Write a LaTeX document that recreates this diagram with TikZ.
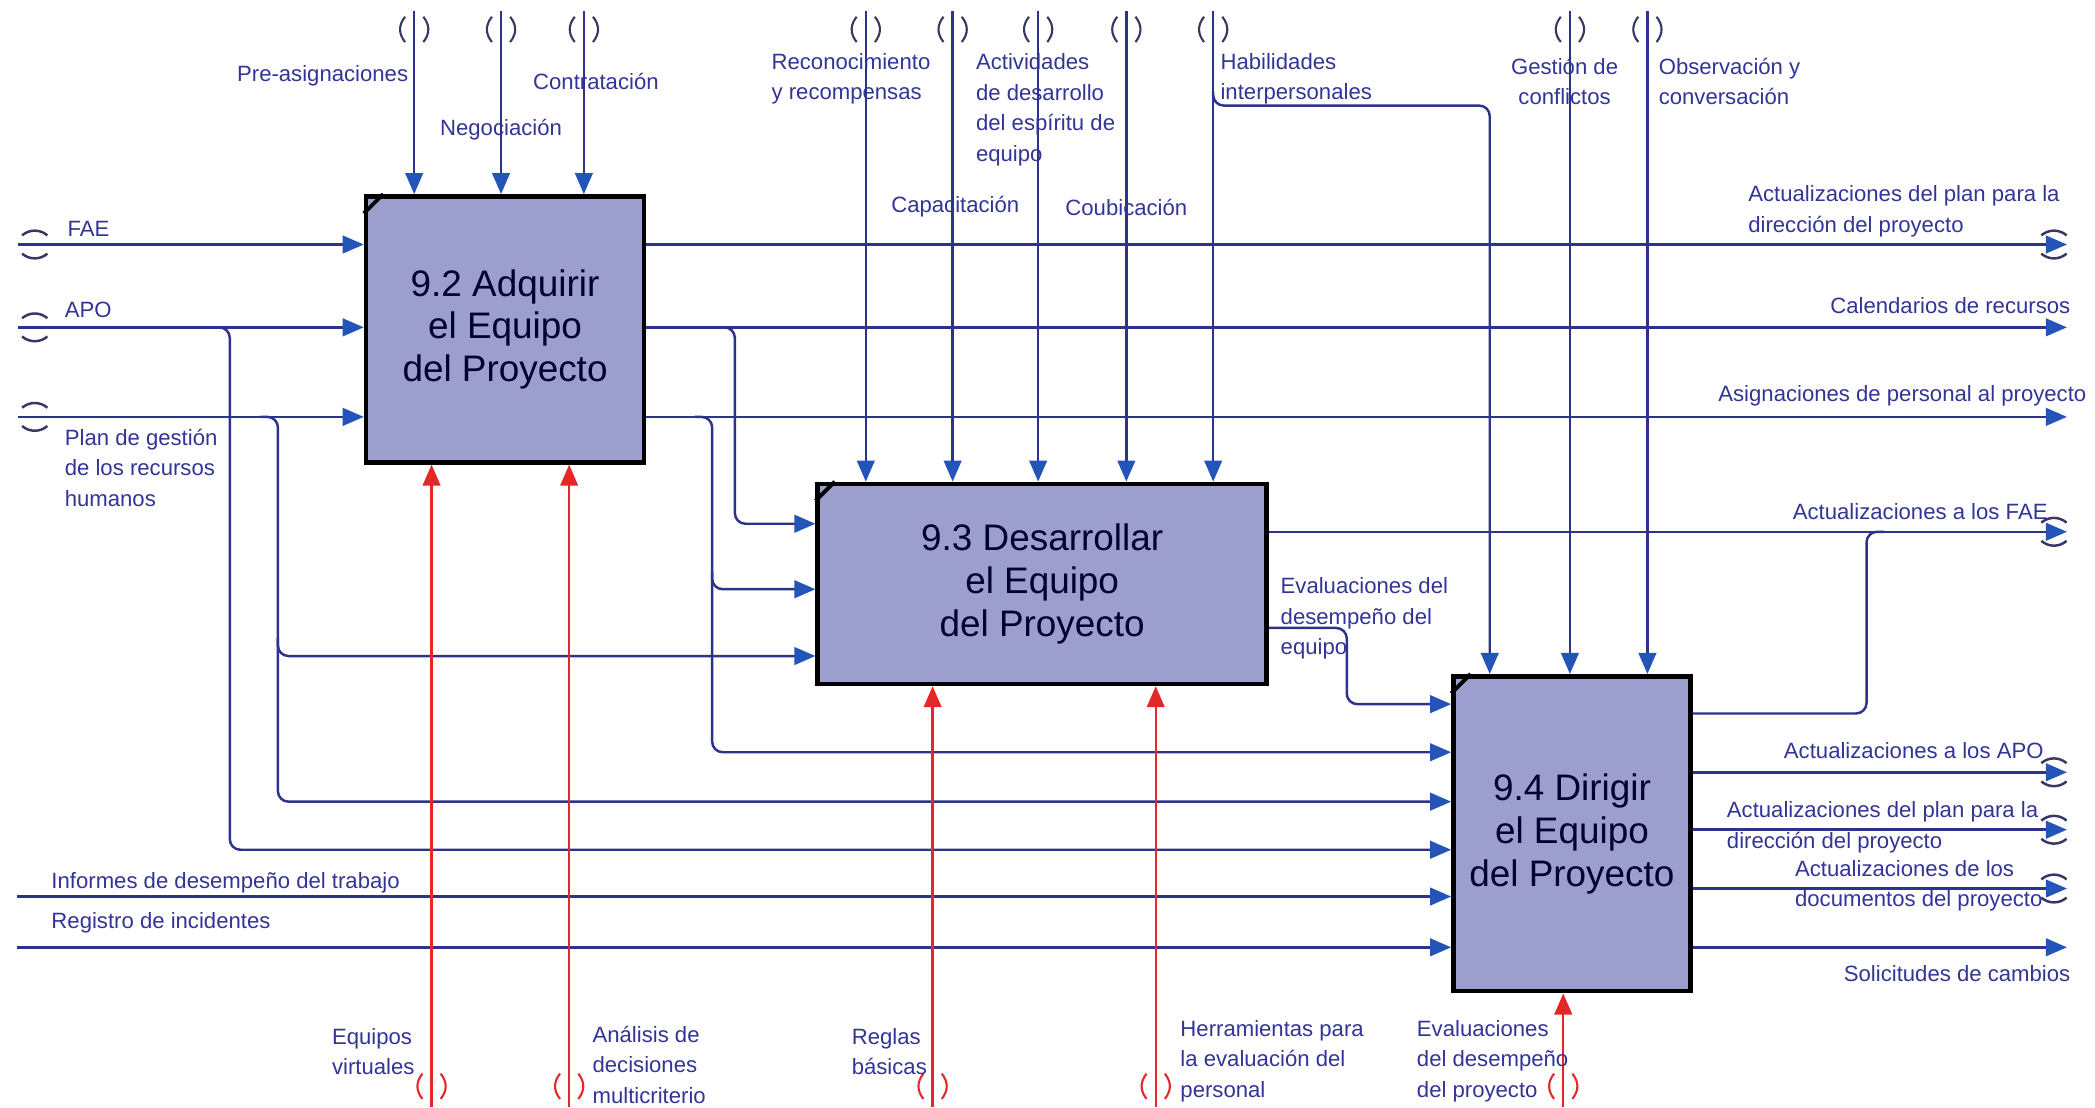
\documentclass[tikz,border=0pt]{standalone}
\usepackage{fontspec}
\setmainfont{Liberation Sans}
\usepackage{tikz}
\usetikzlibrary{arrows.meta, positioning}

\definecolor{azulinea}{RGB}{45,50,140}
\definecolor{azulpunta}{RGB}{35,85,185}
\definecolor{rojoctrl}{RGB}{228,40,40}
\definecolor{lavanda}{RGB}{156,158,206}
\definecolor{azultexto}{RGB}{50,52,150}
\definecolor{tunelgris}{RGB}{55,55,100}

\tikzstyle{proceso} = [rectangle, draw=black, line width=1.3pt, fill=lavanda, text=black!80!blue, align=center, font=\fontsize{10.5}{12.2}\selectfont, inner sep=0pt]
\tikzstyle{etiqueta} = [text=azultexto, font=\fontsize{6.3}{8.7}\selectfont, inner sep=0pt, align=left]
\tikzstyle{flecha} = [draw=azulinea, line width=0.7pt, rounded corners=3pt, -{Triangle[length=6pt, width=5pt, color=azulpunta]}]
\tikzstyle{tramo} = [draw=azulinea, line width=0.7pt, rounded corners=3pt]
\tikzstyle{mecanismo} = [draw=rojoctrl, line width=0.7pt, -{Triangle[length=6pt, width=5pt]}]

% tunnels: vertical "( )" and horizontal arcs
\tikzset{
  tunelv/.pic={
    \draw [line width=0.6pt] (-2.6pt,3.6pt) .. controls (-4.5pt,1.2pt) and (-4.5pt,-1.2pt) .. (-2.6pt,-3.6pt);
    \draw [line width=0.6pt] (2.6pt,3.6pt) .. controls (4.5pt,1.2pt) and (4.5pt,-1.2pt) .. (2.6pt,-3.6pt);
  },
  tunelh/.pic={
    \draw [line width=0.7pt] (-3.6pt,2.6pt) .. controls (-1.5pt,4.4pt) and (1.5pt,4.4pt) .. (3.6pt,2.6pt);
    \draw [line width=0.7pt] (-3.6pt,-2.6pt) .. controls (-1.5pt,-4.4pt) and (1.5pt,-4.4pt) .. (3.6pt,-2.6pt);
  }
}

\begin{document}
\begin{tikzpicture}[x=0.01336cm, y=-0.01336cm]
    \useasboundingbox (0,0) rectangle (1568,829);

    % --- Procesos ---
    \node (adq) [proceso, minimum width=2.78cm, minimum height=2.66cm] at (378,246.5) {9.2 Adquirir\\el Equipo\\del Proyecto};
    \node (des) [proceso, minimum width=4.49cm, minimum height=2.00cm] at (780,437) {9.3 Desarrollar\\el Equipo\\del Proyecto};
    \node (dir) [proceso, minimum width=2.37cm, minimum height=3.15cm] at (1176.5,624) {9.4 Dirigir\\el Equipo\\del Proyecto};

    % esquinas
    \draw [line width=1.1pt] ([xshift=5.5pt]adq.north west) -- ([yshift=-5.5pt]adq.north west);
    \draw [line width=1.1pt] ([xshift=5.5pt]des.north west) -- ([yshift=-5.5pt]des.north west);
    \draw [line width=1.1pt] ([xshift=5.5pt]dir.north west) -- ([yshift=-5.5pt]dir.north west);

    % --- Entradas por la izquierda ---
    \coordinate (fae) at (26,183);
    \coordinate (apo) at (26,245);
    \coordinate (plan) at (26,312);
    \coordinate (informes) at (13,671);
    \coordinate (registro) at (13,709);

    \draw [flecha] ([xshift=-4.9pt]fae) -- (fae -| adq.west);
    \draw [flecha] ([xshift=-4.9pt]apo) -- (apo -| adq.west);
    \draw [flecha] ([xshift=-4.9pt]plan) -- (plan -| adq.west);
    \draw [flecha] (informes) -- (informes -| dir.west);
    \draw [flecha] (registro) -- (registro -| dir.west);
    \pic [color=tunelgris] at (fae) {tunelh};
    \pic [color=tunelgris] at (apo) {tunelh};
    \pic [color=tunelgris] at (plan) {tunelh};

    \node (lfae) [etiqueta, anchor=west] at (50,171) {FAE};
    \node (lapo) [etiqueta, anchor=west] at (48,232) {APO};
    \node (lplan) [etiqueta, anchor=west] at (48,350) {Plan de gestión\\de los recursos\\humanos};
    \node (linf) [etiqueta, anchor=west] at (38,661) {Informes de desempeño del trabajo};
    \node (lreg) [etiqueta, anchor=west] at (38,691) {Registro de incidentes};

    % ramas de APO y del plan
    \coordinate (rapo) at (172,245);
    \coordinate (rplan) at (208,312);
    \coordinate (rplan2) at (208,491);
    \draw [flecha] ([xshift=-5pt]rapo) -- (rapo) |- (dir.west |- 0,636);
    \draw [flecha] ([xshift=-5pt]rplan) -- (rplan) |- (dir.west |- 0,600);
    \draw [flecha] ([yshift=5pt]rplan2) -- (rplan2) -- (des.west |- rplan2);

    % --- Salidas de 9.2 ---
    \coordinate (oplan) at (1547,183);
    \coordinate (ocal) at (1547,245);
    \coordinate (oasig) at (1547,312);
    \draw [flecha] (oplan -| adq.east) -- (oplan);
    \draw [flecha] (ocal -| adq.east) -- (ocal);
    \draw [flecha] (oasig -| adq.east) -- (oasig);
    \pic [color=tunelgris] at ([xshift=-3.7pt]oplan) {tunelh};

    \node (loplan) [etiqueta, anchor=west] at (1308,158) {Actualizaciones del plan para la\\dirección del proyecto};
    \node (local) [etiqueta, anchor=east] at (1550,229) {Calendarios de recursos};
    \node (loasig) [etiqueta, anchor=east] at (1562,296) {Asignaciones de personal al proyecto};

    % ramas hacia 9.3 y 9.4
    \coordinate (rcal) at (550,245);
    \coordinate (rasig) at (533,312);
    \coordinate (rasig2) at (533,441);
    \draw [flecha] ([xshift=-5pt]rcal) -- (rcal) |- (des.west |- 0,392);
    \draw [flecha] ([xshift=-5pt]rasig) -- (rasig) |- (dir.west |- 0,563);
    \draw [flecha] ([yshift=5pt]rasig2) -- (rasig2) -- (des.west |- rasig2);

    % --- Salidas de 9.3 ---
    \coordinate (ofae) at (1547,398);
    \draw [flecha] (ofae -| des.east) -- (ofae);
    \pic [color=tunelgris] at ([xshift=-3.7pt]ofae) {tunelh};
    \node (lofae) [etiqueta, anchor=east] at (1533,383) {Actualizaciones a los FAE};

    \draw [flecha] (des.east |- 0,470) -- (1008,470) |- (dir.west |- 0,527);
    \node (leveq) [etiqueta, anchor=west] at (958,463) {Evaluaciones del\\desempeño del\\equipo};

    % --- Salidas de 9.4 ---
    \coordinate (rfae) at (1397,398);
    \coordinate (oapo) at (1547,578);
    \coordinate (oplan2) at (1547,621);
    \coordinate (odocs) at (1547,665);
    \coordinate (osol) at (1547,709);
    \draw [tramo] (dir.east |- 0,534) -| (rfae) -- ([xshift=5pt]rfae);
    \draw [flecha] (oapo -| dir.east) -- (oapo);
    \draw [flecha] (oplan2 -| dir.east) -- (oplan2);
    \draw [flecha] (odocs -| dir.east) -- (odocs);
    \draw [flecha] (osol -| dir.east) -- (osol);
    \pic [color=tunelgris] at ([xshift=-3.7pt]oapo) {tunelh};
    \pic [color=tunelgris] at ([xshift=-3.7pt]oplan2) {tunelh};
    \pic [color=tunelgris] at ([xshift=-3.7pt]odocs) {tunelh};

    \node (loapo) [etiqueta, anchor=east] at (1530,562) {Actualizaciones a los APO};
    \node (loplan2) [etiqueta, anchor=west] at (1292,619) {Actualizaciones del plan para la\\dirección del proyecto};
    \node (lodocs) [etiqueta, anchor=west] at (1343,663) {Actualizaciones de los\\documentos del proyecto};
    \node (losol) [etiqueta, anchor=east] at (1550,729) {Solicitudes de cambios};

    % --- Controles (arriba) ---
    \coordinate (preasig) at (310,22);
    \coordinate (negoc) at (375,22);
    \coordinate (contr) at (437,22);
    \coordinate (recon) at (648,22);
    \coordinate (capac) at (713,22);
    \coordinate (activ) at (777,22);
    \coordinate (coub) at (843,22);
    \coordinate (habil) at (908,22);
    \coordinate (gestion) at (1175,22);
    \coordinate (observ) at (1233,22);

    \draw [flecha] ([yshift=5.3pt]preasig) -- (preasig |- adq.north);
    \draw [flecha] ([yshift=5.3pt]negoc) -- (negoc |- adq.north);
    \draw [flecha] ([yshift=5.3pt]contr) -- (contr |- adq.north);
    \draw [flecha] ([yshift=5.3pt]recon) -- (recon |- des.north);
    \draw [flecha] ([yshift=5.3pt]capac) -- (capac |- des.north);
    \draw [flecha] ([yshift=5.3pt]activ) -- (activ |- des.north);
    \draw [flecha] ([yshift=5.3pt]coub) -- (coub |- des.north);
    \draw [flecha] ([yshift=5.3pt]habil) -- (habil |- des.north);
    \draw [flecha] ([yshift=5.3pt]gestion) -- (gestion |- dir.north);
    \draw [flecha] ([yshift=5.3pt]observ) -- (observ |- dir.north);

    \pic [color=tunelgris] at (preasig) {tunelv};
    \pic [color=tunelgris] at (negoc) {tunelv};
    \pic [color=tunelgris] at (contr) {tunelv};
    \pic [color=tunelgris] at (recon) {tunelv};
    \pic [color=tunelgris] at (capac) {tunelv};
    \pic [color=tunelgris] at (activ) {tunelv};
    \pic [color=tunelgris] at (coub) {tunelv};
    \pic [color=tunelgris] at (habil) {tunelv};
    \pic [color=tunelgris] at (gestion) {tunelv};
    \pic [color=tunelgris] at (observ) {tunelv};

    % habilidades tambien llega a 9.4
    \coordinate (rhab) at (908,79);
    \draw [flecha] ([yshift=4pt]rhab) -- (rhab) -| (1115,0 |- dir.north);

    \node (lpre) [etiqueta, anchor=east] at (306,57) {Pre-asignaciones};
    \node (lneg) [etiqueta] at (375,97) {Negociación};
    \node (lcon) [etiqueta] at (446,61) {Contratación};
    \node (lrec) [etiqueta, anchor=west] at (577,59) {Reconocimiento\\y recompensas};
    \node (lcap) [etiqueta] at (715,155) {Capacitación};
    \node (lact) [etiqueta, anchor=west] at (730,82) {Actividades\\de desarrollo\\del espíritu de\\equipo};
    \node (lcoub) [etiqueta] at (843,155) {Coubicación};
    \node (lhab) [etiqueta, anchor=west] at (913,59) {Habilidades\\interpersonales};
    \node (lges) [etiqueta, align=center] at (1171,61) {Gestión de\\conflictos};
    \node (lobs) [etiqueta, anchor=west] at (1241,61) {Observación y\\conversación};

    % --- Mecanismos (abajo) ---
    \coordinate (equipos) at (323,813);
    \coordinate (analisis) at (426,813);
    \coordinate (reglas) at (698,813);
    \coordinate (herram) at (865,813);
    \coordinate (evalp) at (1170,813);

    \draw [mecanismo] ([yshift=-6pt]equipos) -- (equipos |- adq.south);
    \draw [mecanismo] ([yshift=-6pt]analisis) -- (analisis |- adq.south);
    \draw [mecanismo] ([yshift=-6pt]reglas) -- (reglas |- des.south);
    \draw [mecanismo] ([yshift=-6pt]herram) -- (herram |- des.south);
    \draw [mecanismo] ([yshift=-6pt]evalp) -- (evalp |- dir.south);

    \pic [color=rojoctrl] at (equipos) {tunelv};
    \pic [color=rojoctrl] at (analisis) {tunelv};
    \pic [color=rojoctrl] at (reglas) {tunelv};
    \pic [color=rojoctrl] at (herram) {tunelv};
    \pic [color=rojoctrl] at (evalp) {tunelv};

    \node (lequ) [etiqueta, anchor=west] at (248,787) {Equipos\\virtuales};
    \node (lana) [etiqueta, anchor=west] at (443,797) {Análisis de\\decisiones\\multicriterio};
    \node (lreg2) [etiqueta, anchor=west] at (637,787) {Reglas\\básicas};
    \node (lher) [etiqueta, anchor=west] at (883,794) {Herramientas para\\la evaluación del\\personal};
    \node (levp) [etiqueta, anchor=west] at (1060,794) {Evaluaciones\\del desempeño\\del proyecto};

\end{tikzpicture}
\end{document}
